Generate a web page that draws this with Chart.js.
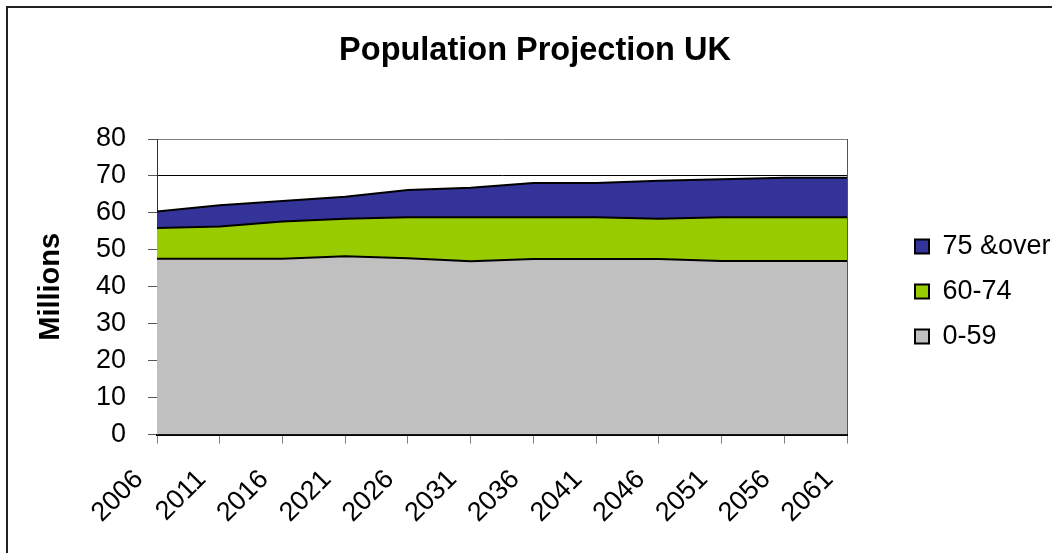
<!DOCTYPE html>
<html>
<head>
<meta charset="utf-8">
<title>Population Projection UK</title>
<script src="https://cdn.jsdelivr.net/npm/chart.js@4.4.1/dist/chart.umd.min.js"></script>
<style>
  html, body { margin: 0; padding: 0; background: #fff; }
  #wrap { position: relative; width: 1052px; height: 553px; }
  #frame { position: absolute; left: 6px; top: 6px; right: 0; bottom: 0; border-left: 2px solid #222; border-top: 2px solid #222; pointer-events: none; }
  canvas { display: block; }
</style>
</head>
<body>
<div id="wrap">
  <canvas id="chart" width="1052" height="553"></canvas>
  <div id="frame"></div>
</div>
<script>
// values in millions
const years = ["2006", "2011", "2016", "2021", "2026", "2031", "2036", "2041", "2046", "2051", "2056", "2061"];
const age0to59 = [47.6, 47.6, 47.6, 48.3, 47.7, 46.9, 47.5, 47.5, 47.5, 47.0, 47.0, 47.0];
const age60to74 = [8.3, 8.7, 10.1, 10.1, 11.1, 11.9, 11.3, 11.3, 10.9, 11.8, 11.8, 11.8];
const age75over = [4.5, 5.8, 5.5, 6.0, 7.4, 8.0, 9.3, 9.3, 10.3, 10.3, 10.7, 10.7];
const yTicks = [0, 10, 20, 30, 40, 50, 60, 70, 80];

const FONT = "'Liberation Sans', Arial, sans-serif";

// empty box between plot and legend, so the legend sits further right like in Excel
const legendGap = {
  id: "legendGap",
  beforeInit(chart) {
    Chart.layouts.addBox(chart, {
      position: "right",
      weight: 10,
      fullSize: false,
      options: {},
      isHorizontal() { return false; },
      update(maxWidth, maxHeight) { this.width = 50; this.height = maxHeight; },
      draw() {}
    });
  }
};

function area(label, data, color, fill) {
  return {
    label: label,
    data: data,
    backgroundColor: color,
    borderColor: "#000",
    borderWidth: 2,
    fill: fill,
    pointRadius: 0,
    pointHoverRadius: 0,
    tension: 0
  };
}

new Chart(document.getElementById("chart"), {
  type: "line",
  data: {
    labels: years,
    datasets: [
      area("0-59", age0to59, "#C0C0C0", "origin"),
      area("60-74", age60to74, "#99CC00", "-1"),
      area("75 &over", age75over, "#333399", "-1")
    ]
  },
  plugins: [legendGap],
  options: {
    responsive: false,
    animation: false,
    layout: { padding: { left: 18, right: 0, top: 0, bottom: 4 } },
    scales: {
      x: {
        offset: false,
        z: 1,
        ticks: {
          autoSkip: false,
          maxRotation: 45,
          minRotation: 45,
          padding: 20,
          labelOffset: -18,
          color: "#000",
          font: { family: FONT, size: 27 }
        },
        grid: {
          drawOnChartArea: true,
          color: function(ctx) { return ctx.index === years.length - 1 ? "#555" : "rgba(0,0,0,0)"; },
          tickColor: "#808080",
          tickLength: 9
        },
        border: { color: "#000", width: 2 }
      },
      y: {
        stacked: true,
        min: yTicks[0],
        max: yTicks[yTicks.length - 1],
        afterBuildTicks: function(scale) { scale.ticks = yTicks.map(function(v) { return { value: v }; }); },
        afterFit: function(scale) { scale.width = 139; },
        ticks: {
          autoSkip: false,
          padding: 22,
          color: "#000",
          font: { family: FONT, size: 27 }
        },
        grid: {
          color: function(ctx) { return ctx.tick && ctx.tick.value === yTicks[yTicks.length - 1] ? "#808080" : "#000"; },
          tickColor: "#555",
          tickLength: 9
        },
        border: { color: "#333", width: 1 },
        title: {
          display: true,
          text: "Millions",
          color: "#000",
          font: { family: FONT, size: 29, weight: "bold" },
          padding: { top: 16, bottom: 0 }
        }
      }
    },
    plugins: {
      title: {
        display: true,
        text: "Population Projection UK",
        color: "#000",
        font: { family: FONT, size: 32.5, weight: "bold", lineHeight: 1.2 },
        padding: { top: 32, bottom: 68 }
      },
      legend: {
        position: "right",
        reverse: true,
        maxWidth: 155,
        // blank title only pushes the item column down a little
        title: { display: true, text: " ", font: { size: 10 }, padding: 11 },
        labels: {
          boxWidth: 14,
          boxHeight: 14,
          padding: 18,
          color: "#000",
          font: { family: FONT, size: 27 }
        }
      },
      tooltip: { enabled: false }
    }
  }
});
</script>
</body>
</html>
